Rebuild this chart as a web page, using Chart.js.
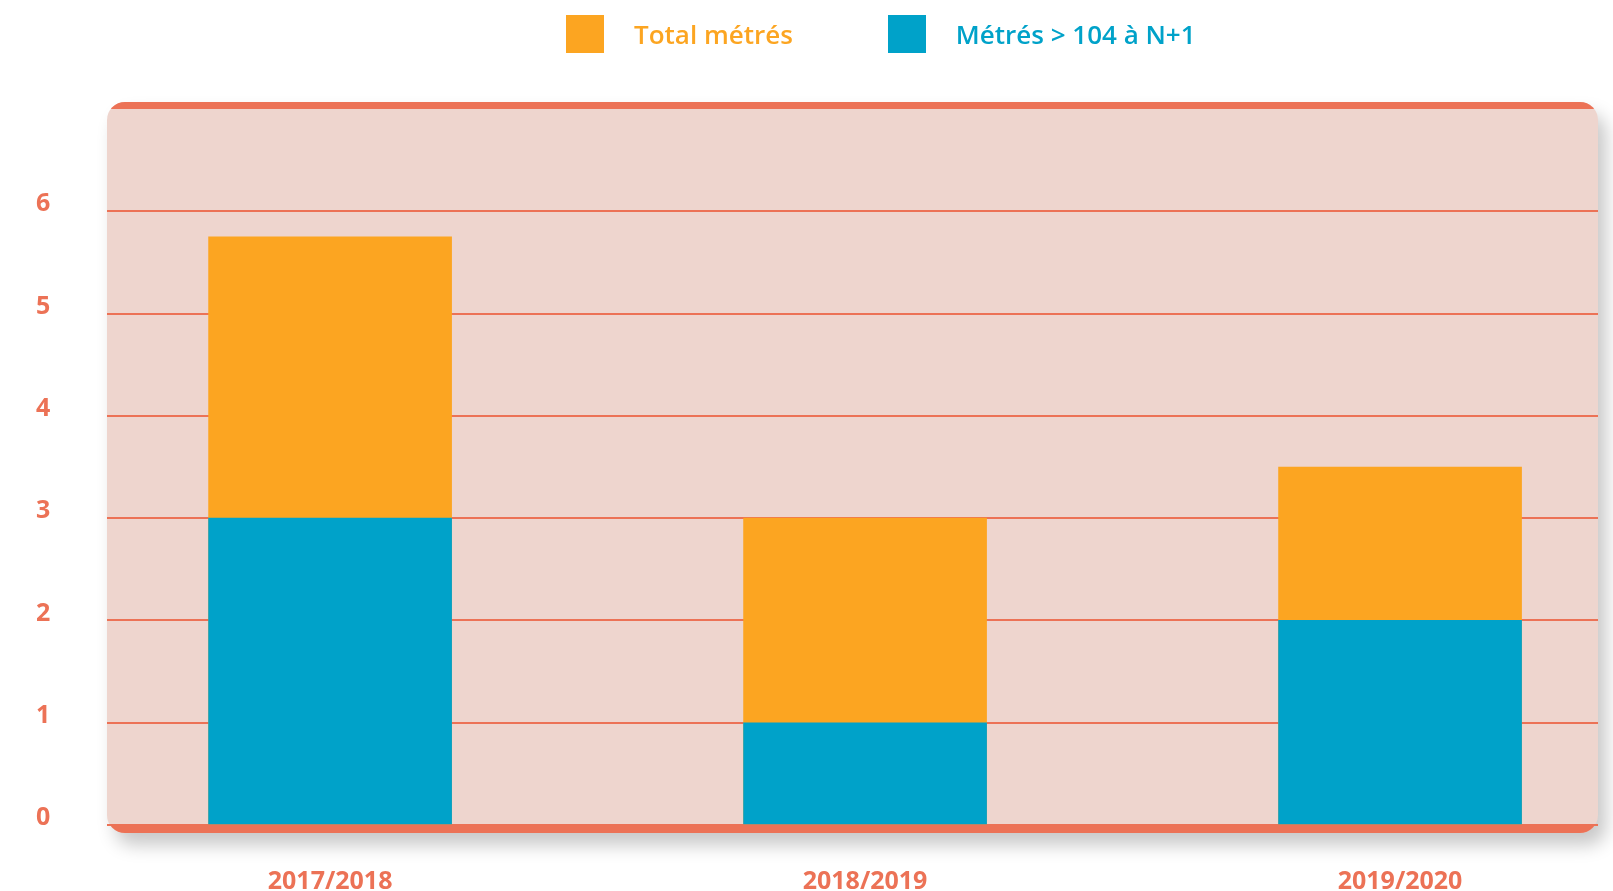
<!DOCTYPE html>
<html lang="fr">
<head>
<meta charset="utf-8">
<title>Métrés</title>
<script src="https://cdn.jsdelivr.net/npm/chart.js@4.4.1/dist/chart.umd.min.js"></script>
<style>
  body { margin: 0; background: #fff; }
  #wrap { position: relative; width: 1613px; height: 891px; }
  #legend { position: absolute; top: 15px; left: 566px; display: flex; font-family: 'Open Sans', sans-serif; font-weight: 600; font-size: 26px; }
  #legend .item { display: flex; align-items: center; height: 38px; }
  #legend .item + .item { margin-left: 95px; }
  #legend .box { width: 38px; height: 38px; margin-right: 30px; }
</style>
</head>
<body>
<div id="wrap">
  <canvas id="myChart" width="1613" height="891"></canvas>
  <div id="legend"></div>
</div>
<script>
// données
const categories = ['2017/2018', '2018/2019', '2019/2020'];
const totalMetres = [5.75, 3, 3.5];
const metresN1 = [3, 1, 2];
const yTicks = [0, 1, 2, 3, 4, 5, 6];

const ORANGE = '#FCA521';
const BLUE = '#00A2C9';
const RED = '#EC7256';
const PINK = '#EED5CE';

// fond rose arrondi avec bandes haut / bas
const panelBg = {
  id: 'panelBg',
  beforeDraw(chart) {
    const { ctx, chartArea } = chart;
    const x = chartArea.left;
    const y = chartArea.top - 7;
    const w = chartArea.right - chartArea.left;
    const h = chartArea.bottom - chartArea.top + 15;
    ctx.save();
    ctx.shadowColor = 'rgba(0,0,0,0.22)';
    ctx.shadowBlur = 18;
    ctx.shadowOffsetX = 8;
    ctx.shadowOffsetY = 12;
    ctx.fillStyle = PINK;
    ctx.beginPath();
    ctx.roundRect(x, y, w, h, 18);
    ctx.fill();
    ctx.restore();

    ctx.save();
    ctx.beginPath();
    ctx.roundRect(x, y, w, h, 18);
    ctx.clip();
    ctx.fillStyle = RED;
    ctx.fillRect(x, y, w, 7);
    ctx.fillRect(x, chartArea.bottom, w, 8);
    ctx.restore();
  },
};

const ctx = document.getElementById('myChart');

const chart = new Chart(ctx, {
  type: 'bar',
  data: {
    datasets: [
      {
        label: 'Total métrés',
        data: totalMetres.map((v, i) => ({ x: i, y: v })),
        backgroundColor: ORANGE,
        grouped: false,
        order: 1,
      },
      {
        label: 'Métrés > 104 à N+1',
        data: metresN1.map((v, i) => ({ x: i, y: v })),
        backgroundColor: BLUE,
        grouped: false,
        order: 0,
      },
    ],
  },
  options: {
    responsive: false,
    animation: false,
    layout: { padding: { top: 109, left: 36, right: 15, bottom: 0 } },
    datasets: { bar: { barThickness: 243, borderWidth: 0 } },
    plugins: {
      legend: { display: false },
      tooltip: { enabled: false },
    },
    scales: {
      x: {
        type: 'linear',
        offset: false,
        min: -0.417,
        max: 2.37,
        grid: { display: false },
        border: { display: false },
        afterBuildTicks: (scale) => {
          scale.ticks = categories.map((c, i) => ({ value: i }));
        },
        afterFit: (scale) => {
          scale.height = 66;
          scale.paddingLeft = 0;
          scale.paddingRight = 0;
        },
        ticks: {
          padding: 34,
          maxRotation: 0,
          color: RED,
          font: { family: 'Open Sans', size: 25, weight: 'bold' },
          callback: (v) => categories[v],
        },
      },
      y: {
        min: 0,
        max: 7,
        afterBuildTicks: (scale) => {
          scale.ticks = yTicks.map((v) => ({ value: v }));
        },
        afterFit: (scale) => {
          scale.width = 71;
          scale.paddingTop = 0;
          scale.paddingBottom = 0;
        },
        grid: { color: RED, lineWidth: 2, drawTicks: false },
        border: { display: false },
        ticks: {
          padding: 0,
          crossAlign: 'far',
          labelOffset: -7,
          color: RED,
          font: { family: 'Open Sans', size: 25, weight: 'bold' },
        },
      },
    },
  },
  plugins: [panelBg],
});

// légende HTML à partir des datasets
const legend = document.getElementById('legend');
chart.data.datasets.forEach((ds) => {
  const item = document.createElement('div');
  item.className = 'item';
  item.innerHTML = `<span class="box" style="background:${ds.backgroundColor}"></span><span style="color:${ds.backgroundColor}">${ds.label.replace('>', '&gt;')}</span>`;
  legend.appendChild(item);
});
</script>
</body>
</html>
